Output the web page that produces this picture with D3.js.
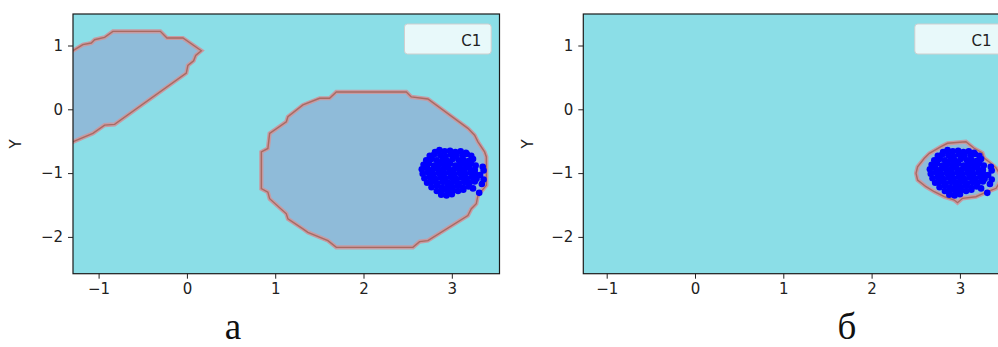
<!DOCTYPE html>
<html>
<head>
<meta charset="utf-8">
<script src="https://cdn.jsdelivr.net/npm/d3@7"></script>
<style>
  body { margin: 0; background: #fff; }
  svg { display: block; }
  .tick text { font-family: "DejaVu Sans", sans-serif; font-size: 15px; fill: #222; }
  .tick line { stroke: #222; }
</style>
</head>
<body>
<div id="chart"></div>
<script>
// ticks and labels
const xTicks = [-1, 0, 1, 2, 3];
const yTicks = [-2, -1, 0, 1];
const panelLabels = ['а', 'б'];
const legendLabel = 'C1';
const yLabel = 'Y';

// decision regions (data units)
const regionA1 = [
  [-1.35, 0.918], [-1.291, 0.918], [-1.178, 1.013], [-1.083, 1.039], [-1.045, 1.091], [-0.932, 1.128],
  [-0.838, 1.222], [-0.301, 1.222], [-0.226, 1.118], [-0.045, 1.118], [0.163, 0.918], [0.099, 0.844],
  [0.076, 0.761], [0.011, 0.687], [-0.007, 0.567], [-0.819, -0.236], [-0.932, -0.247], [-1.065, -0.378],
  [-1.159, -0.431], [-1.291, -0.510], [-1.35, -0.510]
];
const regionA2 = [
  [1.692, 0.272], [2.485, 0.272], [2.541, 0.194], [2.729, 0.162], [3.182, -0.299], [3.258, -0.405],
  [3.296, -0.510], [3.371, -0.668], [3.391, -0.746], [3.391, -1.192], [3.296, -1.350], [3.277, -1.480],
  [3.221, -1.559], [3.182, -1.665], [2.729, -2.058], [2.635, -2.074], [2.559, -2.164], [1.692, -2.164],
  [1.597, -2.058], [1.370, -1.928], [1.314, -1.874], [1.144, -1.717], [1.126, -1.638], [0.937, -1.402],
  [0.917, -1.298], [0.843, -1.244], [0.843, -0.668], [0.917, -0.614], [0.937, -0.378], [1.126, -0.195],
  [1.144, -0.117], [1.314, 0.068], [1.503, 0.173], [1.616, 0.173]
];
const regionB1 = [
  [2.503, -1.003], [2.521, -0.900], [2.597, -0.768], [2.654, -0.690], [2.786, -0.586], [2.860, -0.533],
  [3.068, -0.508], [3.161, -0.611], [3.255, -0.685], [3.274, -0.763], [3.350, -0.846], [3.410, -0.920],
  [3.478, -1.077], [3.410, -1.238], [3.311, -1.292], [3.181, -1.370], [3.029, -1.395], [2.973, -1.464],
  [2.936, -1.422], [2.823, -1.370], [2.710, -1.292], [2.616, -1.213], [2.521, -1.108]
];

// class C1 samples
const points = [
  [2.81,-0.67],[2.86,-0.64],[2.92,-0.66],[2.98,-0.65],[3.04,-0.67],[3.10,-0.66],[3.16,-0.68],
  [2.75,-0.73],[2.80,-0.71],[2.87,-0.72],[2.93,-0.74],[2.99,-0.71],[3.05,-0.73],[3.12,-0.72],[3.17,-0.70],[3.22,-0.73],
  [2.71,-0.80],[2.77,-0.78],[2.83,-0.80],[2.90,-0.79],[2.95,-0.81],[3.01,-0.78],[3.08,-0.80],[3.13,-0.79],[3.19,-0.81],[3.24,-0.78],
  [2.68,-0.87],[2.74,-0.85],[2.80,-0.88],[2.86,-0.86],[2.92,-0.87],[2.98,-0.85],[3.04,-0.88],[3.10,-0.86],[3.16,-0.87],[3.22,-0.85],[3.27,-0.88],[3.35,-0.90],
  [2.66,-0.94],[2.72,-0.92],[2.78,-0.95],[2.84,-0.93],[2.90,-0.94],[2.96,-0.92],[3.02,-0.95],[3.08,-0.93],[3.14,-0.94],[3.20,-0.92],[3.26,-0.95],[3.36,-0.96],
  [2.67,-1.01],[2.73,-0.99],[2.79,-1.02],[2.85,-1.00],[2.91,-1.01],[2.97,-0.99],[3.03,-1.02],[3.09,-1.00],[3.15,-1.01],[3.21,-0.99],[3.27,-1.02],[3.32,-1.03],
  [2.69,-1.08],[2.75,-1.06],[2.81,-1.09],[2.87,-1.07],[2.93,-1.08],[2.99,-1.06],[3.05,-1.09],[3.11,-1.07],[3.17,-1.08],[3.23,-1.06],[3.28,-1.09],[3.36,-1.10],
  [2.72,-1.15],[2.78,-1.13],[2.84,-1.16],[2.90,-1.14],[2.96,-1.15],[3.02,-1.13],[3.08,-1.16],[3.14,-1.14],[3.20,-1.15],[3.26,-1.13],[3.34,-1.17],
  [2.77,-1.22],[2.83,-1.20],[2.89,-1.23],[2.95,-1.21],[3.01,-1.22],[3.07,-1.20],[3.13,-1.23],[3.19,-1.21],[3.24,-1.24],
  [2.83,-1.28],[2.89,-1.27],[2.95,-1.29],[3.01,-1.27],[3.07,-1.28],[3.13,-1.26],[3.31,-1.31],
  [2.88,-1.34],[2.94,-1.35],[3.00,-1.33]
];

const width = 998;
const height = 347;
const yDomain = [-2.577, 1.494];

const panels = [
  { left: 73, xDomain: [-1.29, 3.54], regions: [regionA1, regionA2], labelX: 233, yLabelX: 16 },
  { left: 583.3, xDomain: [-1.265, 3.565], regions: [regionB1], labelX: 847, yLabelX: 527.5 }
];
const axTop = 14;
const axW = 426.5;
const axH = 259.7;

const svg = d3.select('#chart').append('svg')
  .attr('width', width)
  .attr('height', height);

panels.forEach((p, i) => {
  const x = d3.scaleLinear().domain(p.xDomain).range([0, axW]);
  const y = d3.scaleLinear().domain(yDomain).range([axH, 0]);

  const g = svg.append('g').attr('transform', `translate(${p.left},${axTop})`);

  g.append('clipPath').attr('id', 'clip' + i)
    .append('rect').attr('width', axW).attr('height', axH);

  const plot = g.append('g').attr('clip-path', `url(#clip${i})`);

  plot.append('rect')
    .attr('width', axW).attr('height', axH)
    .attr('fill', '#8bdee7');

  const line = d3.line().x(d => x(d[0])).y(d => y(d[1])).curve(d3.curveLinearClosed);

  plot.selectAll('.region')
    .data(p.regions).enter()
    .append('path')
    .attr('class', 'region')
    .attr('d', line)
    .attr('fill', '#8fbbd9');

  // contour edge: soft halo + thin dark line
  plot.selectAll('.edge-halo')
    .data(p.regions).enter()
    .append('path')
    .attr('d', line)
    .attr('fill', 'none')
    .attr('stroke', '#c79ba3')
    .attr('stroke-width', 4.2);
  plot.selectAll('.edge')
    .data(p.regions).enter()
    .append('path')
    .attr('d', line)
    .attr('fill', 'none')
    .attr('stroke', '#a86a62')
    .attr('stroke-width', 1.4);

  plot.selectAll('circle')
    .data(points).enter()
    .append('circle')
    .attr('cx', d => x(d[0]))
    .attr('cy', d => y(d[1]))
    .attr('r', 3.3)
    .attr('fill', '#0000ff');

  /* frame */
  g.append('rect')
    .attr('width', axW).attr('height', axH)
    .attr('fill', 'none')
    .attr('stroke', '#1a1a1a')
    .attr('stroke-width', 1.2);

  /* axes */
  g.append('g')
    .attr('transform', `translate(0,${axH})`)
    .call(d3.axisBottom(x).tickValues(xTicks).tickFormat(d3.format('d')).tickSize(5).tickPadding(5))
    .call(a => a.select('.domain').remove());

  g.append('g')
    .call(d3.axisLeft(y).tickValues(yTicks).tickFormat(d3.format('d')).tickSize(5).tickPadding(5))
    .call(a => a.select('.domain').remove());

  svg.append('text')
    .attr('transform', `translate(${p.yLabelX},${axTop + axH / 2}) rotate(-90)`)
    .attr('text-anchor', 'middle')
    .attr('dominant-baseline', 'central')
    .style('font-family', '"DejaVu Sans", sans-serif')
    .style('font-size', '15px')
    .style('fill', '#222')
    .text(yLabel);

  /* legend */
  const lg = g.append('g').attr('transform', `translate(${axW - 95},10)`);
  lg.append('rect')
    .attr('width', 86.7).attr('height', 30)
    .attr('rx', 3)
    .attr('fill', 'rgba(255,255,255,0.8)')
    .attr('stroke', '#cfcfcf');
  lg.append('text')
    .attr('x', 76.7).attr('y', 21.5)
    .attr('text-anchor', 'end')
    .style('font-family', '"DejaVu Sans", sans-serif')
    .style('font-size', '15px')
    .style('fill', '#222')
    .text(legendLabel);

  svg.append('text')
    .attr('x', p.labelX).attr('y', 339)
    .attr('text-anchor', 'middle')
    .style('font-family', '"Liberation Serif", "Times New Roman", serif')
    .style('font-size', '37px')
    .style('fill', '#111')
    .text(panelLabels[i]);
});
</script>
</body>
</html>
